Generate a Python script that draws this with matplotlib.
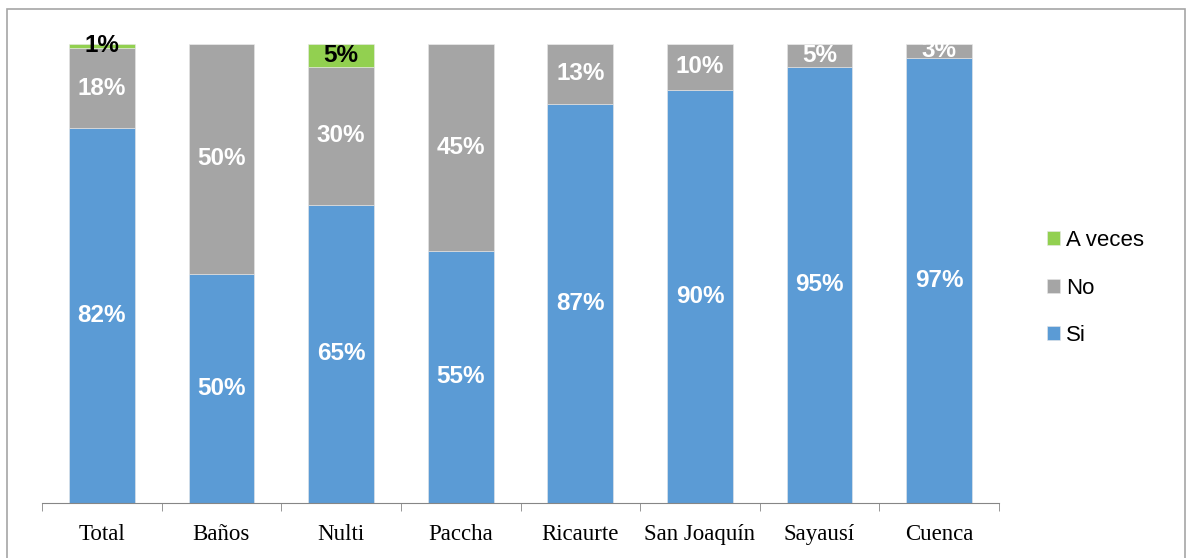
import matplotlib
matplotlib.use("Agg")
import matplotlib.pyplot as plt
import numpy as np
from matplotlib.patches import Rectangle

# survey answers per parish (percent)
parroquias = ["Total", "Baños", "Nulti", "Paccha", "Ricaurte", "San Joaquín", "Sayausí", "Cuenca"]
si = [81.6, 50, 65, 55, 87, 90, 95, 97]
no = [17.6, 50, 30, 45, 13, 10, 5, 3]
a_veces = [0.8, 0, 5, 0, 0, 0, 0, 0]

series = [("Si", si, "#5B9BD5", "white"),
          ("No", no, "#A5A5A5", "white"),
          ("A veces", a_veces, "#92D050", "black")]

W, H = 1191, 558
fig = plt.figure(figsize=(W / 100, H / 100), dpi=100)
ax = fig.add_axes([42 / W, 1 - 503 / H, (999 - 42) / W, (503 - 44) / H])

x = np.arange(len(parroquias))
bottom = np.zeros(len(parroquias))
handles = []
for name, vals, color, txt_color in series:
    vals = np.array(vals, dtype=float)
    bars = ax.bar(x, vals, 0.55, bottom=bottom, color=color, label=name,
                  edgecolor="#e8e8e8", linewidth=0.4)
    handles.append(bars)
    for xi, b, v in zip(x, bottom, vals):
        if v > 0:
            ax.text(xi, b + v / 2, f"{v:.0f}%", ha="center", va="center",
                    color=txt_color, fontsize=17.5, fontweight="bold",
                    family="Liberation Sans")
    bottom += vals

ax.set_xlim(-0.5, len(parroquias) - 0.5)
ax.set_ylim(0, 100)

# labels centred under bars, tick marks between categories
ax.set_xticks(x)
ax.set_xticklabels(parroquias, family="Liberation Serif", fontsize=16.5)
ax.set_xticks(np.arange(-0.5, len(parroquias)), minor=True)
ax.tick_params(axis="x", which="major", length=0, pad=15)
ax.tick_params(axis="x", which="minor", length=6, color="#868686", direction="out")
ax.set_yticks([])
for s in ["left", "right", "top"]:
    ax.spines[s].set_visible(False)
ax.spines["bottom"].set_color("#868686")

leg = ax.legend(handles[::-1], [s[0] for s in series][::-1], loc="center left",
                bbox_to_anchor=(1.0, (503 - 288) / (503 - 44)), frameon=False,
                prop={"family": "Liberation Sans", "size": 16},
                handlelength=0.6, handleheight=0.6, handletextpad=0.25,
                labelspacing=1.2, borderaxespad=1.75)

# outer chart frame
fig.patches.append(Rectangle((7 / W, -0.05), (1185 - 7) / W, 1.05 - 9 / H,
                             transform=fig.transFigure, fill=False,
                             edgecolor="#A6A6A6", linewidth=1.2))

fig.savefig("out.png", dpi=100)
